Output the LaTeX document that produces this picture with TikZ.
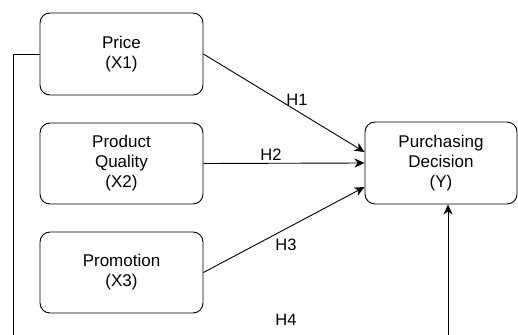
\documentclass[tikz,border=0pt]{standalone}
\usepackage{fontspec}
\setmainfont{Liberation Sans}
\usetikzlibrary{arrows.meta}
\begin{document}
\begin{tikzpicture}[x=1pt,y=-1pt,
  var/.style={draw, rounded corners=10pt, line width=0.9pt, align=center,
    font=\fontsize{17}{20}\selectfont, inner sep=0pt},
  link/.style={line width=0.9pt, -{Stealth[length=10pt,width=9pt,inset=3pt]}},
  hyp/.style={font=\fontsize{16.5}{18}\selectfont, inner sep=0pt}]
\useasboundingbox (0,0) rectangle (518,334);
\clip (0,0) rectangle (518,334);
\fill[white] (0,0) rectangle (518,334);
% exogenous variables
\node[var, minimum width=163pt, minimum height=82pt] (x1) at (121.5,54) {Price\\(X1)};
\node[var, minimum width=163pt, minimum height=81pt] (x2) at (121.5,163.5) {Product\\Quality\\(X2)};
\node[var, minimum width=163pt, minimum height=81pt] (x3) at (121.5,272.5) {Promotion\\(X3)};
% endogenous variable
\node[var, minimum width=152pt, minimum height=82pt] (y) at (441,163) {Purchasing\\Decision\\(Y)};
% direct paths
\draw[link] (x1.east) -- ([yshift=11pt]y.west);
\draw[link] (x2.east) -- (y.west);
\draw[link] (x3.east) -- ([yshift=-24pt]y.west);
% simultaneous path H4 running below the picture
\coordinate (lb) at (13,380);
\coordinate (rb) at (448,380);
\draw[line width=0.9pt] (x1.west) -- (13,54) -- (lb) -- (rb);
\draw[link] (rb) -- (y.south -| rb);
% hypothesis labels
\node[hyp] (h1) at (297,100) {H1};
\node[hyp] (h2) at (271,155) {H2};
\node[hyp] (h3) at (286,245) {H3};
\node[hyp] (h4) at (286,320) {H4};
\end{tikzpicture}
\end{document}
